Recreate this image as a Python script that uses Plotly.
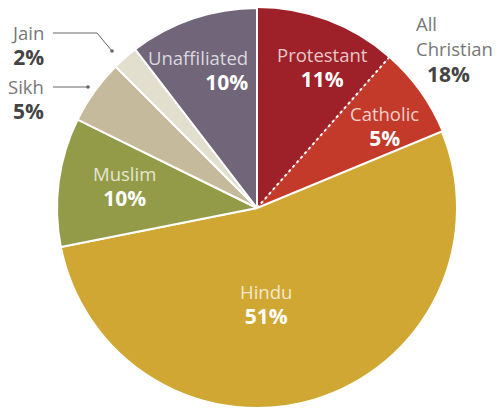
import math
import plotly.graph_objects as go

# ---- data ----
religions = ["Protestant", "Catholic", "Hindu", "Muslim", "Sikh", "Jain", "Unaffiliated"]
slice_values = [11, 7, 51, 10, 5, 2, 10]
pct_labels = ["11%", "5%", "51%", "10%", "5%", "2%", "10%"]
christian_label = "All<br>Christian"
christian_pct = "18%"

# ---- styles ----
colors = ["#9e2028", "#c33a2a", "#d0a732", "#939b49", "#c5ba9b", "#e2dfcf", "#706579"]
line_widths = [0, 0, 2, 2, 2, 2, 2]
W, H = 497, 408
CX, CY, R = 257, 208, 200
FONT = "Open Sans"
BASE_SIZE = 19.5   # controls line spacing
NAME_SIZE = 18.5
PCT_SIZE = 21

def px(x):
    return x / W

def py(y):
    return 1 - y / H

def tint(hexcol, a=0.75):
    h = hexcol.lstrip("#")
    rgb = [int(h[i:i + 2], 16) for i in (0, 2, 4)]
    mixed = [round(a * 255 + (1 - a) * c) for c in rgb]
    return "#" + "".join(f"{c:02x}" for c in mixed)

fig = go.Figure(go.Pie(
    labels=religions,
    values=slice_values,
    sort=False,
    direction="clockwise",
    rotation=0,
    textinfo="none",
    hoverinfo="label+value",
    marker=dict(colors=colors, line=dict(color="white", width=line_widths)),
    domain=dict(x=[(CX - R) / W, (CX + R) / W], y=[0, 2 * R / H]),
    showlegend=False,
))

# dotted divider between Protestant and Catholic, derived from data
ang = 2 * math.pi * slice_values[0] / sum(slice_values)
ex, ey = CX + R * math.sin(ang), CY - R * math.cos(ang)
shapes = [dict(type="line", xref="paper", yref="paper",
               x0=px(CX), y0=py(CY), x1=px(ex), y1=py(ey),
               line=dict(color="white", width=2, dash="dot"))]

# leader lines for Jain and Sikh
grey = "#666666"
shapes.append(dict(type="path", xref="paper", yref="paper",
                   path=f"M {px(53)},{py(33)} L {px(97)},{py(33)} L {px(112)},{py(51)}",
                   line=dict(color=grey, width=1)))
shapes.append(dict(type="line", xref="paper", yref="paper",
                   x0=px(53), y0=py(87), x1=px(88), y1=py(87),
                   line=dict(color=grey, width=1)))
for (x, y) in [(112, 51), (88, 87)]:
    shapes.append(dict(type="circle", xref="paper", yref="paper",
                       x0=px(x - 1.8), x1=px(x + 1.8), y0=py(y - 1.8), y1=py(y + 1.8),
                       fillcolor=grey, line=dict(width=0)))

ann = []

def add(name, pct, x, y, name_color, pct_color, align="center", indent=""):
    name_lines = name.split("<br>")
    name_txt = "<br>".join(
        f"<span style='font-size:{NAME_SIZE}px;color:{name_color}'>{ln}</span>" for ln in name_lines)
    text = (f"{name_txt}<br><b><span style='font-size:{PCT_SIZE}px;color:{pct_color}'>"
            f"{indent}{pct}</span></b>")
    ann.append(dict(text=text, x=px(x), y=py(y), xref="paper", yref="paper",
                    showarrow=False, xanchor=align, yanchor="middle", align=align,
                    font=dict(family=FONT, size=BASE_SIZE, color=pct_color)))

# inside labels (centre of the two-line block)
for i, (cx, cy, al) in {0: (322, 68, "center"), 1: (384, 126, "center"),
                        2: (266, 304, "center"), 3: (124, 187, "center"),
                        6: (250, 70, "right")}.items():
    add(religions[i], pct_labels[i], cx, cy, tint(colors[i]), "#ffffff", align=al)

# outside labels
add(religions[5], pct_labels[5], 46, 45, "#777777", "#444444", align="right")
add(religions[4], pct_labels[4], 46, 99, "#777777", "#444444", align="right")
add(christian_label, christian_pct, 414, 49, "#777777", "#444444", align="left",
    indent="&nbsp;&nbsp;")

fig.update_layout(
    width=W, height=H,
    margin=dict(l=0, r=0, t=0, b=0),
    paper_bgcolor="white",
    plot_bgcolor="white",
    shapes=shapes,
    annotations=ann,
)

fig.write_html("out.html", config={"displayModeBar": False},
               post_script="document.body.style.margin='0';")
